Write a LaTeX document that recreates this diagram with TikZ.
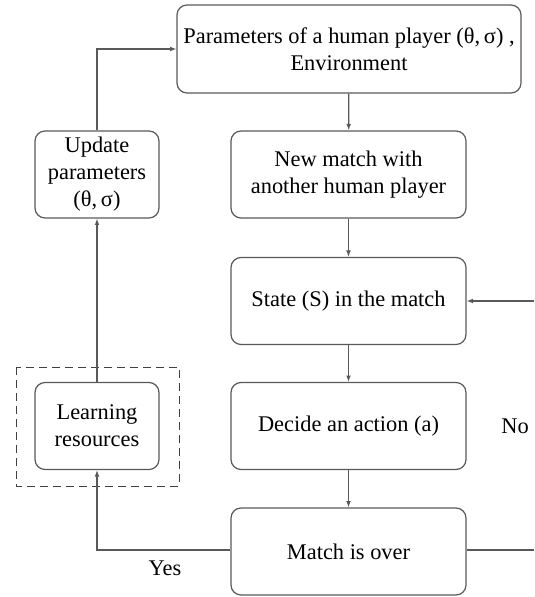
\documentclass[tikz,border=0pt]{standalone}
\usepackage{fontspec}
\setmainfont{Liberation Serif}
\usetikzlibrary{arrows.meta}
\begin{document}
\begin{tikzpicture}[x=0.5pt,y=-0.5pt,
  box/.style={draw=black!65, line width=0.6pt, rounded corners=5pt, align=center, inner sep=0pt,
    font=\fontsize{11.2}{13.5}\selectfont},
  wide/.style={box, minimum width=172pt, minimum height=44pt},
  mid/.style={box, minimum width=117.5pt, minimum height=43.5pt},
  small/.style={box, minimum width=62pt, minimum height=43.5pt},
  conn/.style={draw=black!65, line width=0.6pt},
  arr/.style={conn, -{Latex[length=3.2pt,width=2.4pt]}},
  lbl/.style={font=\fontsize{11.2}{13.5}\selectfont}]
\useasboundingbox (0,0) rectangle (534,597);
\node[wide] (params) at (349,49) {Parameters of a human player (θ,\,σ) ,\\Environment};
\node[mid] (newmatch) at (348.5,174.5) {New match with\\another human player};
\node[mid] (state) at (348.5,301) {State (S) in the match};
\node[mid] (decide) at (348.5,426) {Decide an action (a)};
\node[mid] (over) at (348.5,551.5) {Match is over};
\node[small] (update) at (97,174.5) {Update\\parameters\\(θ,\,σ)};
\node[small] (learn) at (97,426) {Learning\\resources};
\draw[draw=black!75, line width=0.5pt, dash pattern=on 4pt off 2.5pt] (16,367) rectangle (179,486);
\coordinate (rin) at (534,301);
\coordinate (rout) at (534,550);
\node[lbl] (no) at (515,426) {No};
\node[lbl] (yes) at (165,568) {Yes};
\draw[arr] (params) -- (newmatch);
\draw[arr] (newmatch) -- (state);
\draw[arr] (state) -- (decide);
\draw[arr] (decide) -- (over);
\draw[arr] (rin) -- (state.east);
\draw[conn] (over.east |- rout) -- (rout);
\draw[arr] (over.west |- rout) -| (learn.south);
\draw[arr] (learn) -- (update);
\draw[arr] (update.north) |- (params.west);
\end{tikzpicture}
\end{document}
